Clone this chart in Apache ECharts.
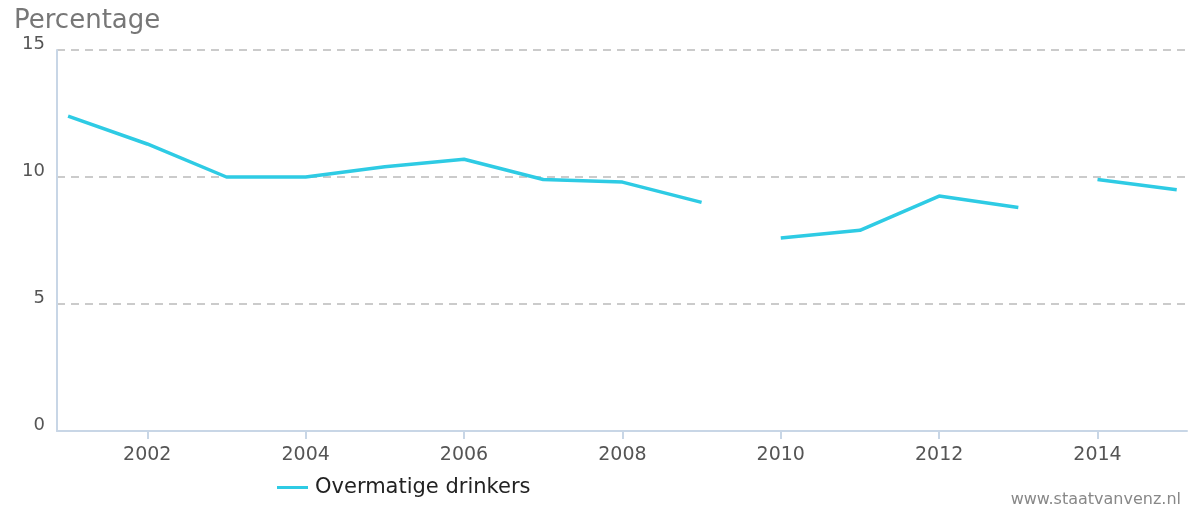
<!DOCTYPE html>
<html>
<head>
<meta charset="utf-8">
<script src="https://cdn.jsdelivr.net/npm/echarts@6/dist/echarts.min.js"></script>
<style>
  html, body { margin: 0; padding: 0; background: #fff; }
  #chart { width: 1194px; height: 513px; }
</style>
</head>
<body>
<div id="chart"></div>
<script>
// jaren en percentages (gaten tussen 2009-2010 en 2013-2014)
const deel1Jaren = [2001, 2002, 2003, 2004, 2005, 2006, 2007, 2008, 2009];
const deel1Waarden = [12.4, 11.3, 10.0, 10.0, 10.4, 10.7, 9.9, 9.8, 9.0];
const deel2Jaren = [2010, 2011, 2012, 2013];
const deel2Waarden = [7.6, 7.9, 9.25, 8.8];
const deel3Jaren = [2014, 2015];
const deel3Waarden = [9.9, 9.5];
const xTicks = [2002, 2004, 2006, 2008, 2010, 2012, 2014];

const kleur = "#2ecbe4";
const naam = "Overmatige drinkers";
const font = "DejaVu Sans, Verdana, sans-serif";

const paren = (jaren, waarden) => jaren.map((j, i) => [j, waarden[i]]);

const lijn = (data) => ({
  name: naam,
  type: "line",
  data: data,
  symbol: "none",
  lineStyle: { color: kleur, width: 3.5 },
  itemStyle: { color: kleur },
});

const option = {
  animation: false,
  title: [
    {
      text: "Percentage",
      left: 9,
      top: 3,
      textStyle: { fontFamily: font, fontSize: 26, fontWeight: "normal", color: "#777" },
    },
    {
      text: "www.staatvanvenz.nl",
      right: 8,
      bottom: 0,
      textStyle: { fontFamily: font, fontSize: 16, fontWeight: "normal", color: "#888" },
    },
  ],
  grid: { left: 57, right: 7, top: 50, bottom: 82 },
  legend: {
    data: [naam],
    left: 272,
    bottom: 10,
    icon: "rect",
    itemWidth: 31,
    itemHeight: 3,
    itemGap: 10,
    textStyle: { fontFamily: font, fontSize: 21, color: "#222", padding: [0, 0, 0, 2] },
  },
  xAxis: {
    type: "value",
    min: 2000.86,
    max: 2015.13,
    splitLine: { show: false },
    axisLine: { show: true, lineStyle: { color: "#c8d6e6", width: 2 } },
    axisTick: { show: true, customValues: xTicks, length: 8, lineStyle: { color: "#c8d6e6", width: 2 } },
    axisLabel: {
      customValues: xTicks,
      margin: 15,
      fontFamily: font,
      fontSize: 19,
      color: "#555",
      formatter: (v) => String(v),
    },
  },
  yAxis: {
    type: "value",
    min: 0,
    max: 15,
    interval: 5,
    axisLine: { show: true, lineStyle: { color: "#c8d6e6", width: 2 } },
    axisTick: { show: false },
    splitLine: { lineStyle: { color: "#bbbbbb", type: [8, 6], width: 1.5 } },
    axisLabel: {
      margin: 12,
      fontFamily: font,
      fontSize: 18,
      color: "#555",
      verticalAlign: "bottom",
      lineHeight: 11,
    },
  },
  series: [
    lijn(paren(deel1Jaren, deel1Waarden)),
    lijn(paren(deel2Jaren, deel2Waarden)),
    lijn(paren(deel3Jaren, deel3Waarden)),
  ],
};

const myChart = echarts.init(document.getElementById("chart"));
myChart.setOption(option);
</script>
</body>
</html>
